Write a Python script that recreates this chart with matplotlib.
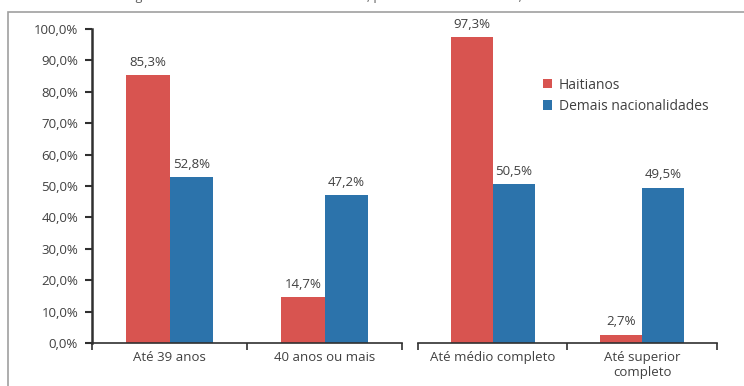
import matplotlib.pyplot as plt
from matplotlib.patches import Rectangle

# dados
idade = ["Até 39 anos", "40 anos ou mais"]
escolaridade = ["Até médio completo", "Até superior\ncompleto"]
haitianos_idade = [85.3, 14.7]
demais_idade = [52.8, 47.2]
haitianos_esc = [97.3, 2.7]
demais_esc = [50.5, 49.5]
series = ["Haitianos", "Demais nacionalidades"]
yticks = [0, 10, 20, 30, 40, 50, 60, 70, 80, 90, 100]

RED = "#D85450"
BLUE = "#2C73AB"
TXT = "#404040"
W = 0.28

plt.rcParams['font.family'] = ['Open Sans', 'DejaVu Sans']

fig = plt.figure(figsize=(7.44, 3.86), dpi=100)
# moldura cinza
fig.patches.append(Rectangle((8 / 744, -0.1), 1.0, 1.1 - 12 / 386, transform=fig.transFigure,
                             fill=False, edgecolor="#A0A0A0", linewidth=1.2))
fig.text(0.5, 1.008, "Migrantes com vínculo formal de trabalho, por idade e escolaridade, no Brasil — 2017",
         ha="center", va="center", fontsize=9, color="#606060")

bottom = (386 - 343) / 386
height = (343 - 29) / 386
ax1 = fig.add_axes([92 / 744, bottom, 310 / 744, height])
ax2 = fig.add_axes([418 / 744, bottom, 299 / 744, height])


def fmt(v):
    return f"{v:.1f}%".replace(".", ",")


def painel(ax, cats, h, d):
    x = list(range(len(cats)))
    b1 = ax.bar([i - W / 2 for i in x], h, W, color=RED, label=series[0])
    b2 = ax.bar([i + W / 2 for i in x], d, W, color=BLUE, label=series[1])
    for bars in (b1, b2):
        for r in bars:
            ax.text(r.get_x() + r.get_width() / 2, r.get_height() + 2.0, fmt(r.get_height()),
                    ha="center", va="bottom", fontsize=9.5, color=TXT)
    ax.set_xlim(-0.5, len(cats) - 0.5)
    ax.set_ylim(0, 100)
    ax.set_xticks(x)
    ax.set_xticklabels(cats, fontsize=9.5, color=TXT, linespacing=1.2)
    ax.tick_params(axis="x", which="major", length=0, pad=6)
    ax.set_xticks([-0.5, 0.5, 1.5], minor=True)
    ax.tick_params(axis="x", which="minor", length=5, width=1.2, color="#303030", direction="out")
    ax.spines["top"].set_visible(False)
    ax.spines["right"].set_visible(False)
    ax.spines["bottom"].set_color("#303030")
    ax.spines["bottom"].set_linewidth(1.2)


painel(ax1, idade, haitianos_idade, demais_idade)
painel(ax2, escolaridade, haitianos_esc, demais_esc)

ax1.set_yticks(yticks)
ax1.set_yticklabels([fmt(v) for v in yticks], fontsize=9.5, color=TXT)
ax1.tick_params(axis="y", length=5, width=1.5, color="#303030", pad=5)
ax1.spines["left"].set_color("#303030")
ax1.spines["left"].set_linewidth(1.8)

ax2.spines["left"].set_visible(False)
ax2.set_yticks([])

ax2.legend(loc="upper left", bbox_to_anchor=(0.377, 0.885), frameon=False, fontsize=10,
           handlelength=0.65, handleheight=0.65, handletextpad=0.45, labelspacing=0.45,
           labelcolor=TXT)

fig.savefig("out.png", dpi=100)
